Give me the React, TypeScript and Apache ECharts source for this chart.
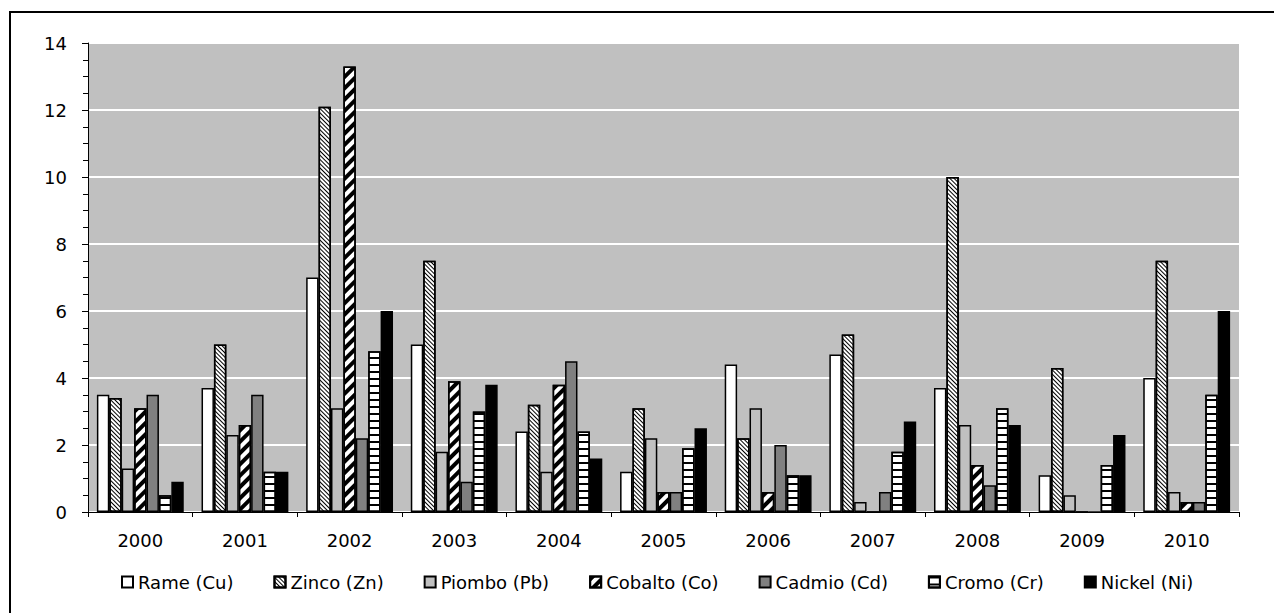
import React, { useEffect, useRef } from "react";
import * as echarts from "echarts";

const years = ["2000", "2001", "2002", "2003", "2004", "2005", "2006", "2007", "2008", "2009", "2010"];
const rame = [3.5, 3.7, 7.0, 5.0, 2.4, 1.2, 4.4, 4.7, 3.7, 1.1, 4.0];
const zinco = [3.4, 5.0, 12.1, 7.5, 3.2, 3.1, 2.2, 5.3, 10.0, 4.3, 7.5];
const piombo = [1.3, 2.3, 3.1, 1.8, 1.2, 2.2, 3.1, 0.3, 2.6, 0.5, 0.6];
const cobalto = [3.1, 2.6, 13.3, 3.9, 3.8, 0.6, 0.6, 0, 1.4, 0, 0.3];
const cadmio = [3.5, 3.5, 2.2, 0.9, 4.5, 0.6, 2.0, 0.6, 0.8, 0, 0.3];
const cromo = [0.5, 1.2, 4.8, 3.0, 2.4, 1.9, 1.1, 1.8, 3.1, 1.4, 3.5];
const nickel = [0.9, 1.2, 6.0, 3.8, 1.6, 2.5, 1.1, 2.7, 2.6, 2.3, 6.0];

const seriesNames = ["Rame (Cu)", "Zinco (Zn)", "Piombo (Pb)", "Cobalto (Co)", "Cadmio (Cd)", "Cromo (Cr)", "Nickel (Ni)"];
const yTicks = { min: 0, max: 14, interval: 2 };

const FONT = "DejaVu Sans";

export default function App() {
  const ref = useRef<HTMLDivElement>(null);
  useEffect(() => {
    if (!ref.current) return;
    const chart = echarts.init(ref.current, undefined, { renderer: "svg" });
    const border = { borderColor: "#000", borderWidth: 1.5 };
    const mk = (name: string, data: number[], itemStyle: any) => ({
      name,
      type: "bar",
      data,
      barGap: "0%",
      barCategoryGap: "17%",
      itemStyle: { ...border, ...itemStyle },
    });
    const option: any = {
      animation: false,
      backgroundColor: "#fff",
      graphic: [
        {
          type: "polyline",
          shape: { points: [[10, 613], [10, 12], [1274, 12]] },
          style: { fill: "none", stroke: "#000", lineWidth: 2 },
          silent: true,
        },
      ],
      grid: {
        left: 88,
        right: 35,
        top: 43,
        bottom: 101,
        show: true,
        backgroundColor: "#c0c0c0",
        borderWidth: 0,
      },
      legend: {
        left: 116,
        top: 568,
        icon: "rect",
        itemWidth: 11,
        itemHeight: 11,
        itemGap: 40,
        textStyle: { color: "#000", fontSize: 18, fontFamily: FONT },
        data: seriesNames,
      },
      xAxis: {
        type: "category",
        data: years,
        axisLine: { lineStyle: { color: "#000", width: 1 } },
        axisTick: { show: true, length: 5, lineStyle: { color: "#000" } },
        axisLabel: { color: "#000", fontSize: 18, fontFamily: FONT, margin: 19 },
      },
      yAxis: {
        type: "value",
        min: yTicks.min,
        max: yTicks.max,
        interval: yTicks.interval,
        axisLine: { show: true, lineStyle: { color: "#000", width: 1 } },
        axisTick: { show: true, length: 6, lineStyle: { color: "#000" } },
        minorTick: { show: true, splitNumber: 4, length: 5, lineStyle: { color: "#000" } },
        axisLabel: { color: "#000", fontSize: 18, fontFamily: FONT, margin: 21 },
        splitLine: { show: true, lineStyle: { color: "#fff", width: 2 } },
      },
      series: [
        mk(seriesNames[0], rame, { color: "#fff" }),
        mk(seriesNames[1], zinco, {
          color: "#fff",
          decal: { symbol: "rect", symbolSize: 1, color: "#000", dashArrayX: [1, 0], dashArrayY: [1, 2], rotation: Math.PI / 4 },
        }),
        mk(seriesNames[2], piombo, { color: "#c0c0c0" }),
        mk(seriesNames[3], cobalto, {
          color: "#fff",
          decal: { symbol: "rect", symbolSize: 1, color: "#000", dashArrayX: [1, 0], dashArrayY: [4, 4], rotation: -Math.PI / 4 },
        }),
        mk(seriesNames[4], cadmio, { color: "#808080" }),
        mk(seriesNames[5], cromo, {
          color: "#fff",
          decal: { symbol: "rect", symbolSize: 1, color: "#000", dashArrayX: [1, 0], dashArrayY: [2, 5], rotation: 0 },
        }),
        mk(seriesNames[6], nickel, { color: "#000" }),
      ],
    };
    chart.setOption(option);
    return () => chart.dispose();
  }, []);
  return <div ref={ref} style={{ position: "fixed", left: 0, top: 0, width: 1274, height: 613 }} />;
}
